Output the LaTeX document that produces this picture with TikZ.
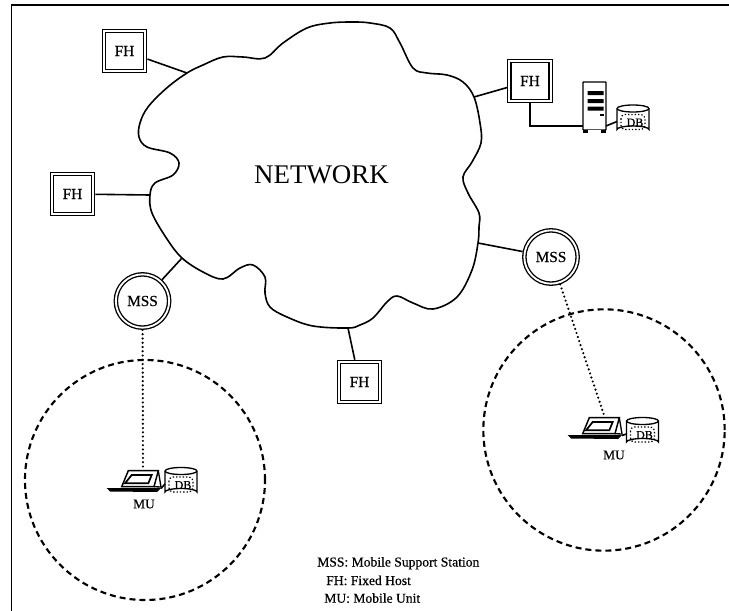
\documentclass[tikz,border=0pt]{standalone}
\usepackage{fontspec}
\setmainfont{Liberation Serif}
\newfontfamily\heavy[FakeBold=0.5]{Liberation Serif}
\tikzset{
  x=0.75pt, y=-0.75pt,
  frameline/.style={line width=1.2pt},
  cloudline/.style={line width=1.2pt},
  link/.style={line width=1.2pt},
  radio/.style={line width=1.8pt, line cap=round, dash pattern=on 0pt off 3.2pt},
  cell/.style={line width=1.6pt, dash pattern=on 4.5pt off 3pt},
  fh/.style={draw, line width=1pt, double, double distance=1.4pt, fill=white, inner sep=0pt, outer sep=1.7pt,
    minimum width=31pt, minimum height=30pt, font=\heavy\fontsize{11.5}{13}\selectfont, text=black},
  mss/.style={circle, draw, line width=1pt, double, double distance=1.4pt, fill=white, inner sep=0pt, outer sep=1.7pt,
    minimum size=40pt, font=\heavy\fontsize{11.5}{13}\selectfont},
  legend/.style={font=\heavy\fontsize{10.2}{12}\selectfont, inner sep=0pt, anchor=base west},
  mulabel/.style={font=\heavy\fontsize{10}{11}\selectfont, inner sep=0pt},
  pics/dbdrum/.style={code={
    \draw[line width=1pt, fill=white] (-16,-10) arc[start angle=180, end angle=360, x radius=16, y radius=3.5]
      -- (16,11) arc[start angle=0, end angle=-180, x radius=16, y radius=3.5] -- cycle;
    \draw[line width=1pt] (-16,-10) arc[start angle=180, end angle=0, x radius=16, y radius=3.5];
    \draw[line width=0.9pt, dash pattern=on 1pt off 1.5pt, rounded corners=3pt] (-12,-4) rectangle (12,11);
    \node[font=\heavy\fontsize{9}{10}\selectfont, inner sep=0pt] (-label) at (2,4) {DB};
    \coordinate (-left) at (-16,3);
  }},
  pics/laptop/.style={code={
    \draw[line width=1.1pt, fill=white] (38.3,50.7) -- (68.3,50.7) -- (64,66.7) -- (31.7,66.7) -- cycle;
    \draw[line width=1pt] (68.3,50.7) -- (71,67) -- (64,66.7);
    \draw[line width=1.3pt] (41.7,55) -- (61.7,55) -- (58.3,63.3) -- (35,63.3) -- cycle;
    \fill (16.7,68) -- (71,68) -- (67,72) -- (20,71.5) -- cycle;
    \coordinate (-top) at (53,48);
    \coordinate (-right) at (71,68.5);
  }},
  pics/tower/.style={code={
    \draw[line width=1pt, fill=white, rounded corners=0.5pt] (0,0) rectangle (23,48);
    \fill (0,47.5) rectangle (23,50.5);
    \fill[white] (5,48) rectangle (18,50.5);
    \fill (4.5,9) rectangle (20.5,13) (4.5,17) rectangle (20.5,21) (4.5,24.5) rectangle (20.5,28.5);
    \fill (17,32) rectangle (20.5,33.5);
    \coordinate (-left) at (0,44);
    \coordinate (-right) at (23,44);
  }}
}
\begin{document}
\begin{tikzpicture}
\useasboundingbox (0,0) rectangle (729,611);
\draw[frameline] (11.5,611) -- (11.5,5) -- (729,5);
% cloud
\draw[cloudline, fill=white, smooth cycle, tension=0.6] plot coordinates {
 (187,73) (203,65) (223,57) (243,57) (265,58) (283,43) (307,28) (330,23) (353,22) (370,23) (390,28)
 (400,43) (413,68) (427,73) (447,75) (463,82) (474,97) (480,123) (481,143) (472,162) (463,177)
 (468,193) (479,213) (479,227) (478,243) (472,270) (457,297) (433,309) (413,303) (397,296) (387,302)
 (373,318) (360,325) (348,328) (313,326) (287,317) (270,307) (265,293) (265,277) (253,265) (240,268)
 (223,279) (203,272) (182,258) (167,239) (152,213) (150,195) (155,183) (173,175) (179,163) (170,153)
 (147,147) (139,137) (140,123) (148,107) (166.7,88)};
\coordinate (c1) at (187,73);
\coordinate (c2) at (150,195);
\coordinate (c3) at (182,258);
\coordinate (c4) at (348,328);
\coordinate (c5) at (478,243);
\coordinate (c6) at (474,97);
\node[font=\fontsize{20.2}{22}\selectfont, inner sep=0pt] (net) at (321.5,175) {NETWORK};
% nodes
\node[fh] (fh1) at (124.5,51) {FH};
\node[fh] (fh2) at (72.5,194) {FH};
\node[fh] (fh3) at (530,81) {FH};
\node[fh] (fh4) at (359.5,382) {FH};
\node[mss] (mss1) at (142.5,301) {MSS};
\node[mss] (mss2) at (551,257) {MSS};
% wired connectors
\draw[link] (fh1) -- (c1);
\draw[link] (fh2) -- (c2);
\draw[link] (fh3) -- (c6);
\draw[link] (fh4) -- (c4);
\draw[link] (mss1) -- (c3);
\draw[link] (mss2) -- (c5);
% cells
\node[circle, draw, cell, minimum size=180pt, inner sep=0pt] (cellA) at (145,480) {};
\node[circle, draw, cell, minimum size=181pt, inner sep=0pt] (cellB) at (604,430) {};
% server
\pic (srv) at (583,82) {tower};
\pic (db0) at (633,118.5) {dbdrum};
\draw[link] (fh3.south) |- (srv-left);
\draw[link] (srv-right) -- (db0-left);
% mobile units
\pic (lapA) at (90,420) {laptop};
\pic (dbA) at (181,481) {dbdrum};
\draw[link] (lapA-right) -- (dbA-left);
\pic (lapB) at (551,367) {laptop};
\pic (dbB) at (642.5,431) {dbdrum};
\draw[link] (lapB-right) -- (dbB-left);
\draw[radio] (mss1) -- (lapA-top);
\draw[radio] (mss2) -- (lapB-top);
\node[mulabel] (muA) at (144,504) {MU};
\node[mulabel] (muB) at (614,455) {MU};
% legend
\node[legend] (lg1) at (317,566.5) {MSS: Mobile Support Station};
\node[legend] (lg2) at (326,585) {FH: Fixed Host};
\node[legend] (lg3) at (324,602.7) {MU: Mobile Unit};
\end{tikzpicture}
\end{document}
